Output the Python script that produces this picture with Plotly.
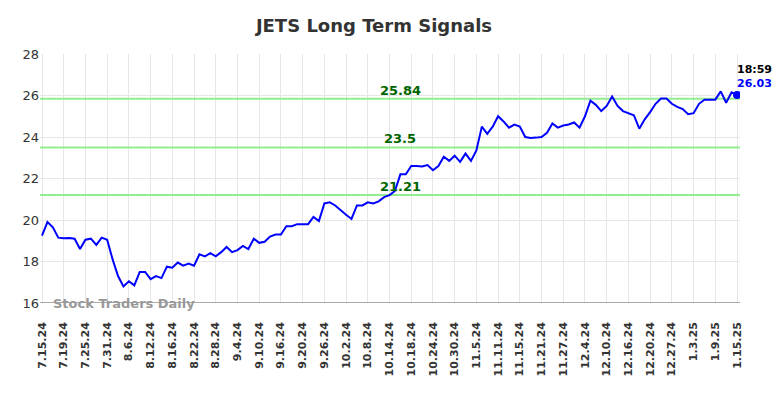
import plotly.graph_objects as go

tick_labels = ["7.15.24", "7.19.24", "7.25.24", "7.31.24", "8.6.24", "8.12.24", "8.16.24",
               "8.22.24", "8.28.24", "9.4.24", "9.10.24", "9.16.24", "9.20.24", "9.26.24",
               "10.2.24", "10.8.24", "10.14.24", "10.18.24", "10.24.24", "10.30.24", "11.5.24",
               "11.11.24", "11.15.24", "11.21.24", "11.27.24", "12.4.24", "12.10.24", "12.16.24",
               "12.20.24", "12.27.24", "1.3.25", "1.9.25", "1.15.25"]

prices = [19.25, 19.9, 19.65, 19.15, 19.12, 19.13, 19.1, 18.6, 19.05, 19.1,
          18.8, 19.15, 19.05, 18.1, 17.3, 16.8, 17.05, 16.85, 17.5, 17.5,
          17.15, 17.3, 17.2, 17.75, 17.7, 17.95, 17.8, 17.9, 17.8, 18.35,
          18.25, 18.4, 18.25, 18.45, 18.7, 18.45, 18.55, 18.75, 18.6, 19.1,
          18.9, 18.95, 19.2, 19.3, 19.3, 19.7, 19.7, 19.8, 19.8, 19.8,
          20.15, 19.95, 20.8, 20.85, 20.7, 20.45, 20.25, 20.05, 20.7, 20.7,
          20.85, 20.8, 20.9, 21.1, 21.2, 21.4, 22.2, 22.2, 22.6, 22.6,
          22.58, 22.65, 22.4, 22.6, 23.05, 22.85, 23.1, 22.8, 23.2, 22.85,
          23.35, 24.5, 24.15, 24.5, 25.0, 24.75, 24.45, 24.6, 24.5, 24.0,
          23.95, 23.97, 24.0, 24.2, 24.65, 24.45, 24.55, 24.6, 24.7, 24.45,
          25.0, 25.75, 25.55, 25.25, 25.5, 25.95, 25.5, 25.25, 25.15, 25.05,
          24.4, 24.85, 25.2, 25.6, 25.85, 25.85, 25.6, 25.45, 25.35, 25.1,
          25.15, 25.6, 25.8, 25.8, 25.8, 26.2, 25.65, 26.15, 26.03]

signal_levels = [25.84, 23.5, 21.21]
last_time = "18:59"

x = list(range(len(prices)))
tick_step = 4
tickvals = [i * tick_step for i in range(len(tick_labels))]
x_range = [-0.37, 128.55]

fig = go.Figure()
for lvl in signal_levels:
    fig.add_trace(go.Scatter(x=x_range, y=[lvl, lvl], mode="lines",
                             line=dict(color="#90ee90", width=2), hoverinfo="skip",
                             showlegend=False))
    fig.add_annotation(x=66, y=lvl, text=f"<b>{lvl:g}</b>", showarrow=False,
                       yanchor="bottom", yshift=-1,
                       font=dict(family="DejaVu Sans", size=13, color="#006400"))

fig.add_trace(go.Scatter(x=x, y=prices, mode="lines",
                         line=dict(color="#0000ff", width=2), showlegend=False))
fig.add_trace(go.Scatter(x=[x[-1]], y=[prices[-1]], mode="markers",
                         marker=dict(color="#0000ff", size=8), showlegend=False))

fig.add_annotation(x=x[-1], y=prices[-1], text=f"<b>{last_time}</b>", showarrow=False,
                   xanchor="left", yanchor="bottom", xshift=-2, yshift=17,
                   font=dict(family="DejaVu Sans", size=11, color="#000000"))
fig.add_annotation(x=x[-1], y=prices[-1], text=f"<b>{prices[-1]:.2f}</b>", showarrow=False,
                   xanchor="left", yanchor="bottom", xshift=-2, yshift=3,
                   font=dict(family="DejaVu Sans", size=11, color="#0000ff"))

fig.add_annotation(xref="paper", yref="paper", x=0.016, y=0.0, text="<b>Stock Traders Daily</b>",
                   showarrow=False, xanchor="left", yanchor="middle",
                   font=dict(family="DejaVu Sans", size=13, color="#999999"))

fig.update_layout(
    title=dict(text="<b>JETS Long Term Signals</b>", x=0.477, xanchor="center", y=0.935,
               yanchor="middle", font=dict(family="DejaVu Sans", size=18, color="#333333")),
    width=784, height=398,
    margin=dict(l=40, r=44, t=54, b=95, autoexpand=False),
    plot_bgcolor="white", paper_bgcolor="white",
    xaxis=dict(range=x_range, tickmode="array", tickvals=tickvals, ticktext=tick_labels,
               tickangle=-90, showgrid=True, gridcolor="#e6e6e6", gridwidth=1,
               zeroline=False, showline=False, ticks="", ticklabelstandoff=16,
               tickfont=dict(family="DejaVu Sans", size=11, color="#333333", weight="bold")),
    yaxis=dict(range=[16, 28], tickvals=[16, 18, 20, 22, 24, 26, 28], showgrid=True,
               gridcolor="#e6e6e6", gridwidth=1, zeroline=False, showline=False, ticks="",
               tickfont=dict(family="DejaVu Sans", size=13, color="#333333")),
    shapes=[dict(type="line", xref="paper", yref="y", x0=0, x1=1, y0=16, y1=16,
                 line=dict(color="#555555", width=1))],
)

fig.write_html("out.html", config={"displayModeBar": False},
               post_script="document.body.style.margin='0px';document.body.style.overflow='hidden';")
